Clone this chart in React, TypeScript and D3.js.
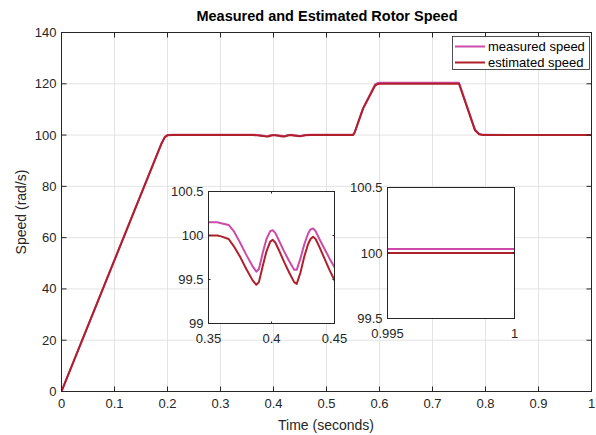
import React from "react";
import * as d3 from "d3";

// time base (s) shared by both traces
const timeS = [
  0, 0.188, 0.195, 0.2, 0.21, 0.35, 0.357, 0.36, 0.366, 0.37, 0.375, 0.38, 0.385, 0.388, 0.39,
  0.393, 0.396, 0.399, 0.401, 0.403, 0.406, 0.41, 0.414, 0.418, 0.42, 0.423, 0.426, 0.429,
  0.431, 0.433, 0.435, 0.438, 0.442, 0.446, 0.45, 0.455, 0.46, 0.47, 0.55, 0.553, 0.569,
  0.592, 0.597, 0.6, 0.75, 0.78, 0.788, 0.795, 1.0,
];

const measuredSpeed = [
  0, 96.4, 99.3, 100.0, 100.15, 100.15, 100.15, 100.14, 100.12, 100.05, 99.92, 99.78, 99.65,
  99.59, 99.62, 99.8, 99.96, 100.05, 100.06, 100.03, 99.94, 99.82, 99.71, 99.61, 99.61, 99.74,
  99.9, 100.02, 100.07, 100.08, 100.05, 99.96, 99.85, 99.74, 99.64, 99.8, 100.0, 100.08,
  100.08, 101, 110.5, 119.8, 120.3, 120.4, 120.4, 102.2, 100.4, 100.08, 100.03,
];

const estimatedSpeed = [
  0, 96.4, 99.2, 99.9, 100.0, 100.0, 100.0, 99.99, 99.96, 99.88, 99.76, 99.62, 99.49, 99.44,
  99.47, 99.65, 99.82, 99.93, 99.95, 99.92, 99.83, 99.7, 99.58, 99.47, 99.45, 99.58, 99.76,
  99.9, 99.96, 99.985, 99.96, 99.87, 99.74, 99.61, 99.49, 99.7, 99.95, 100.0, 100.0, 100.9,
  110.3, 119.4, 119.9, 120.0, 120.0, 101.9, 100.3, 100.02, 100.0,
];

const seriesNames = ["measured speed", "estimated speed"];
const seriesColors = ["#cc4aa8", "#b0202a"];

const mainXTicks = [0, 0.1, 0.2, 0.3, 0.4, 0.5, 0.6, 0.7, 0.8, 0.9, 1];
const mainYTicks = [0, 20, 40, 60, 80, 100, 120, 140];
const inset1XTicks = [0.35, 0.4, 0.45];
const inset1YTicks = [99, 99.5, 100, 100.5];
const inset2XTicks = [0.995, 1];
const inset2YTicks = [99.5, 100, 100.5];

const FONT = "'Liberation Sans', Arial, Helvetica, sans-serif";
const AXIS = "#262626";
const GRID = "#e3e3e3";

type Pt = { t: number; v: number };
const traces: Pt[][] = [measuredSpeed, estimatedSpeed].map((vals) =>
  timeS.map((t, i) => ({ t, v: vals[i] }))
);

function fmt(v: number) {
  return String(+v.toFixed(3));
}

function Axes(props: {
  id: string;
  x0: number; x1: number; y0: number; y1: number;
  xDomain: [number, number]; yDomain: [number, number];
  xTicks: number[]; yTicks: number[];
  grid: boolean; fontSize: number; tickLen: number; xLabelGap: number;
}) {
  const { id, x0, x1, y0, y1, xDomain, yDomain, xTicks, yTicks, grid, fontSize, tickLen, xLabelGap } = props;
  const x = d3.scaleLinear().domain(xDomain).range([x0, x1]);
  const y = d3.scaleLinear().domain(yDomain).range([y1, y0]);
  const line = d3
    .line<Pt>()
    .x((d) => x(d.t))
    .y((d) => y(d.v));
  return (
    <g>
      <rect x={x0} y={y0} width={x1 - x0} height={y1 - y0} fill="#fff" />
      <clipPath id={id}>
        <rect x={x0} y={y0} width={x1 - x0} height={y1 - y0} />
      </clipPath>
      {grid &&
        xTicks.map((t) => (
          <line key={"gx" + t} x1={x(t)} x2={x(t)} y1={y0} y2={y1} stroke={GRID} strokeWidth={1} />
        ))}
      {grid &&
        yTicks.map((t) => (
          <line key={"gy" + t} x1={x0} x2={x1} y1={y(t)} y2={y(t)} stroke={GRID} strokeWidth={1} />
        ))}
      <g clipPath={`url(#${id})`}>
        {traces.map((d, i) => (
          <path key={i} d={line(d) || ""} fill="none" stroke={seriesColors[i]} strokeWidth={2} strokeLinejoin="round" />
        ))}
      </g>
      {xTicks.map((t) => (
        <g key={"tx" + t}>
          <line x1={x(t)} x2={x(t)} y1={y1} y2={y1 - tickLen} stroke={AXIS} />
          <line x1={x(t)} x2={x(t)} y1={y0} y2={y0 + tickLen} stroke={AXIS} />
          <text x={x(t)} y={y1 + fontSize + xLabelGap} textAnchor="middle" fontSize={fontSize} fill={AXIS} fontFamily={FONT}>
            {fmt(t)}
          </text>
        </g>
      ))}
      {yTicks.map((t) => (
        <g key={"ty" + t}>
          <line x1={x0} x2={x0 + tickLen} y1={y(t)} y2={y(t)} stroke={AXIS} />
          <line x1={x1} x2={x1 - tickLen} y1={y(t)} y2={y(t)} stroke={AXIS} />
          <text x={x0 - 5} y={y(t) + fontSize * 0.35} textAnchor="end" fontSize={fontSize} fill={AXIS} fontFamily={FONT}>
            {fmt(t)}
          </text>
        </g>
      ))}
      <rect x={x0} y={y0} width={x1 - x0} height={y1 - y0} fill="none" stroke={AXIS} strokeWidth={1} />
    </g>
  );
}

export default function App() {
  const W = 596;
  const H = 435;
  return (
    <svg width={W} height={H} style={{ position: "absolute", left: 0, top: 0, background: "#fff" }}>
      <rect width={W} height={H} fill="#fff" />
      <Axes
        id="main"
        x0={61.5} x1={591.5} y0={32.5} y1={391.5}
        xDomain={[0, 1]} yDomain={[0, 140]}
        xTicks={mainXTicks} yTicks={mainYTicks}
        grid fontSize={13} tickLen={5} xLabelGap={3}
      />
      <text x={327} y={21} textAnchor="middle" fontSize={14.5} fontWeight="bold" fill="#000" fontFamily={FONT}>
        Measured and Estimated Rotor Speed
      </text>
      <text x={326} y={430} textAnchor="middle" fontSize={14} fill={AXIS} fontFamily={FONT}>
        Time (seconds)
      </text>
      <text transform="translate(26,212) rotate(-90)" textAnchor="middle" fontSize={14} fill={AXIS} fontFamily={FONT}>
        Speed (rad/s)
      </text>

      {/* legend */}
      <g>
        <rect x={452.5} y={36.5} width={137} height={33} fill="#fff" stroke={AXIS} strokeWidth={0.8} />
        {seriesNames.map((n, i) => (
          <g key={n}>
            <line x1={455} x2={485} y1={46.5 + i * 16} y2={46.5 + i * 16} stroke={seriesColors[i]} strokeWidth={2} />
            <text x={488} y={51 + i * 16} fontSize={13} fill="#000" fontFamily={FONT}>
              {n}
            </text>
          </g>
        ))}
      </g>

      <Axes
        id="inset1"
        x0={208.5} x1={334.5} y0={191.5} y1={323.5}
        xDomain={[0.35, 0.45]} yDomain={[99, 100.5]}
        xTicks={inset1XTicks} yTicks={inset1YTicks}
        grid={false} fontSize={13} tickLen={2} xLabelGap={6}
      />
      <Axes
        id="inset2"
        x0={387.5} x1={514.5} y0={187.5} y1={318.5}
        xDomain={[0.995, 1]} yDomain={[99.5, 100.5]}
        xTicks={inset2XTicks} yTicks={inset2YTicks}
        grid={false} fontSize={13} tickLen={2} xLabelGap={6}
      />
    </svg>
  );
}
